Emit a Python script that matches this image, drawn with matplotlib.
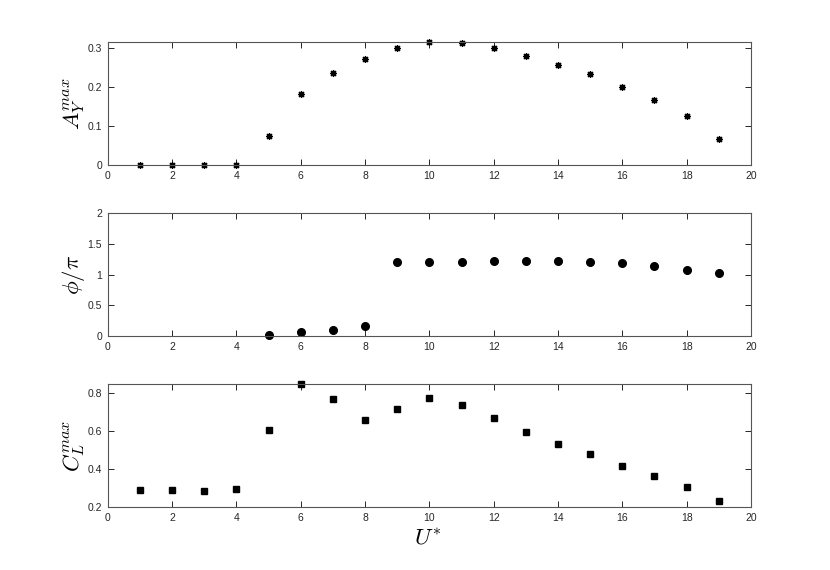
import matplotlib
matplotlib.use("Agg")
import matplotlib.pyplot as plt

U = [1, 2, 3, 4, 5, 6, 7, 8, 9, 10, 11, 12, 13, 14, 15, 16, 17, 18, 19]
AY = [0.0, 0.0, 0.0, 0.002, 0.075, 0.184, 0.236, 0.2735, 0.3017, 0.3155, 0.3137,
      0.300, 0.2795, 0.2564, 0.235, 0.2017, 0.1667, 0.1256, 0.0667]
U_phi = [5, 6, 7, 8, 9, 10, 11, 12, 13, 14, 15, 16, 17, 18, 19]
PHI = [0.011, 0.06, 0.103, 0.163, 1.201, 1.201, 1.212, 1.223, 1.223, 1.217,
       1.212, 1.185, 1.141, 1.082, 1.022]
CL = [0.290, 0.288, 0.2865, 0.297, 0.609, 0.848, 0.770, 0.6606, 0.717, 0.775,
      0.7365, 0.669, 0.597, 0.532, 0.479, 0.417, 0.364, 0.3076, 0.2335]

xticks = [0, 2, 4, 6, 8, 10, 12, 14, 16, 18, 20]

plt.rcParams['mathtext.fontset'] = 'cm'
plt.rcParams['font.family'] = ['Liberation Sans', 'DejaVu Sans']

fig = plt.figure(figsize=(8.3, 5.7), dpi=100)
left, width = 0.1298, 0.775
ax1 = fig.add_axes([left, 0.710, width, 0.2158])
ax2 = fig.add_axes([left, 0.4105, width, 0.2153])
ax3 = fig.add_axes([left, 0.1105, width, 0.2153])

ax1.plot(U, AY, linestyle='none', marker=(8, 2, 0), markersize=5,
         markeredgewidth=0.9, color='black')
ax1.set_ylim(0, max(AY))
ax1.set_yticks([0, 0.1, 0.2, 0.3])
ax1.set_yticklabels(['0', '0.1', '0.2', '0.3'])
ax1.set_ylabel(r'$A_Y^{max}$', fontsize=16.5)

ax2.plot(U_phi, PHI, linestyle='none', marker='o', markersize=5.5, color='black')
ax2.set_ylim(0, 2)
ax2.set_yticks([0, 0.5, 1, 1.5, 2])
ax2.set_yticklabels(['0', '0.5', '1', '1.5', '2'])
ax2.set_ylabel(r'$\phi/\pi$', fontsize=16.5)

ax3.plot(U, CL, linestyle='none', marker='s', markersize=4.5, color='black')
ax3.set_ylim(0.2, max(CL))
ax3.set_yticks([0.2, 0.4, 0.6, 0.8])
ax3.set_yticklabels(['0.2', '0.4', '0.6', '0.8'])
ax3.set_ylabel(r'$C_L^{max}$', fontsize=16.5)
ax3.set_xlabel(r'$U^{*}$', fontsize=16.5)

for ax in (ax1, ax2, ax3):
    ax.set_xlim(0, 20)
    ax.set_xticks(xticks)
    ax.set_xticklabels([str(t) for t in xticks])
    ax.tick_params(direction='in', top=True, right=True, length=4, width=0.7,
                   labelsize=7.5, colors='#262626', pad=4)
    for s in ax.spines.values():
        s.set_color('#555555')
        s.set_linewidth(0.8)
    ax.yaxis.set_label_coords(-0.033, 0.5)
    for m in ax.lines:
        m.set_clip_on(False)

ax3.xaxis.set_label_coords(0.497, -0.16)

fig.savefig('out.png', dpi=100)
